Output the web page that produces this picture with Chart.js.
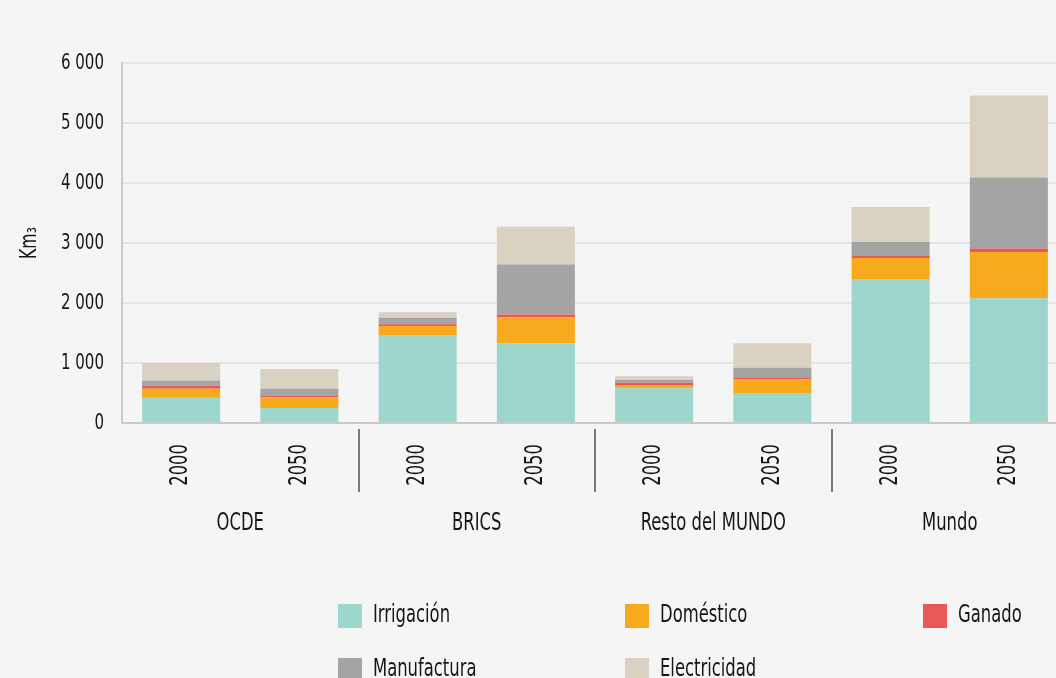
<!DOCTYPE html>
<html>
<head>
<meta charset="utf-8">
<script src="https://cdn.jsdelivr.net/npm/chart.js@4/dist/chart.umd.min.js"></script>
<style>
  html, body { margin: 0; padding: 0; background: #f5f5f5; overflow: hidden; }
  #wrap { position: absolute; left: 0; top: 0; width: 1068px; height: 678px; }
</style>
</head>
<body>
<div id="wrap"><canvas id="waterChart"></canvas></div>
<script>
  const years = ['2000', '2050', '2000', '2050', '2000', '2050', '2000', '2050'];
  const regions = ['OCDE', 'BRICS', 'Resto del MUNDO', 'Mundo'];
  const yTicks = [0, 1000, 2000, 3000, 4000, 5000, 6000];

  const irrigacion   = [420, 250, 1465, 1330, 580, 500, 2400, 2080];
  const domestico    = [150, 180, 150, 430, 55, 230, 350, 770];
  const ganado       = [50, 30, 30, 50, 35, 20, 35, 60];
  const manufactura  = [90, 110, 110, 830, 45, 170, 230, 1180];
  const electricidad = [290, 330, 90, 630, 65, 410, 585, 1370];

  const FONT = "'DejaVu Sans Condensed', 'DejaVu Sans', sans-serif";
  const TEXT = '#161616';
  const SQUEEZE = 0.76; // the original uses a very narrow font

  // group labels, separators and legend drawn on the canvas
  const extras = {
    id: 'extras',
    afterDraw(chart) {
      const ctx = chart.ctx;
      const x = chart.scales.x;
      const area = chart.chartArea;
      ctx.save();
      ctx.fillStyle = TEXT;
      ctx.font = '24px ' + FONT;
      ctx.textAlign = 'center';
      ctx.textBaseline = 'middle';
      regions.forEach((r, g) => {
        const cx = (x.getPixelForValue(2 * g) + x.getPixelForValue(2 * g + 1)) / 2;
        ctx.fillText(r, cx, 524);
        if (g < regions.length - 1) {
          const sx = Math.round((x.getPixelForValue(2 * g + 1) + x.getPixelForValue(2 * g + 2)) / 2);
          ctx.strokeStyle = '#7a7a7a';
          ctx.lineWidth = 2;
          ctx.beginPath();
          ctx.moveTo(sx, area.bottom + 6);
          ctx.lineTo(sx, 492);
          ctx.stroke();
        }
      });

      // legend: 3 columns, 2 rows
      const cols = [338, 625, 923];
      const rows = [616, 670];
      ctx.textAlign = 'left';
      chart.data.datasets.forEach((ds, i) => {
        const bx = cols[i % 3];
        const by = rows[Math.floor(i / 3)];
        ctx.fillStyle = ds.backgroundColor;
        ctx.fillRect(bx, by - 12, 24, 24);
        ctx.fillStyle = TEXT;
        ctx.fillText(ds.label, bx + 35, by);
      });
      ctx.restore();
    }
  };

  window.addEventListener('DOMContentLoaded', () => {
    const ctx = document.getElementById('waterChart').getContext('2d');

    // narrow every text drawn on this canvas
    const rawFill = CanvasRenderingContext2D.prototype.fillText;
    ctx.fillText = function (t, px, py) {
      this.save();
      this.translate(px, py);
      this.scale(SQUEEZE, 1);
      rawFill.call(this, t, 0, 0);
      this.restore();
    };

    new Chart(ctx, {
      type: 'bar',
      data: {
        labels: years,
        datasets: [
          { label: 'Irrigación', data: irrigacion, backgroundColor: '#9dd6cc' },
          { label: 'Doméstico', data: domestico, backgroundColor: '#f6aa1c' },
          { label: 'Ganado', data: ganado, backgroundColor: '#e85a5a' },
          { label: 'Manufactura', data: manufactura, backgroundColor: '#a4a4a4' },
          { label: 'Electricidad', data: electricidad, backgroundColor: '#d9d1c1' }
        ]
      },
      options: {
        responsive: true,
        maintainAspectRatio: false,
        animation: false,
        barPercentage: 0.66,
        categoryPercentage: 1,
        layout: { padding: { top: 63, right: 0, left: 0, bottom: 0 } },
        plugins: {
          legend: { display: false },
          tooltip: { enabled: false }
        },
        scales: {
          x: {
            stacked: true,
            grid: { display: false },
            border: { color: '#c9c9c9', width: 2 },
            ticks: {
              color: TEXT,
              font: { family: FONT, size: 24 },
              minRotation: 90,
              maxRotation: 90,
              padding: 13
            },
            afterFit(scale) { scale.height = 255; }
          },
          y: {
            stacked: true,
            min: 0,
            max: 6000,
            afterBuildTicks(scale) { scale.ticks = yTicks.map(v => ({ value: v })); },
            grid: { color: '#e4e4e4', lineWidth: 2, drawTicks: false },
            border: { color: '#c9c9c9', width: 2 },
            ticks: {
              color: TEXT,
              font: { family: FONT, size: 22 },
              padding: 18,
              callback: v => v >= 1000 ? Math.floor(v / 1000) + ' ' + String(v % 1000).padStart(3, '0') : String(v)
            },
            title: {
              display: true,
              text: 'Km\u2083',
              color: TEXT,
              font: { family: FONT, size: 23 },
              padding: { top: 16, bottom: 0 }
            },
            afterFit(scale) { scale.width = 122; }
          }
        }
      },
      plugins: [extras]
    });
  });
</script>
</body>
</html>
